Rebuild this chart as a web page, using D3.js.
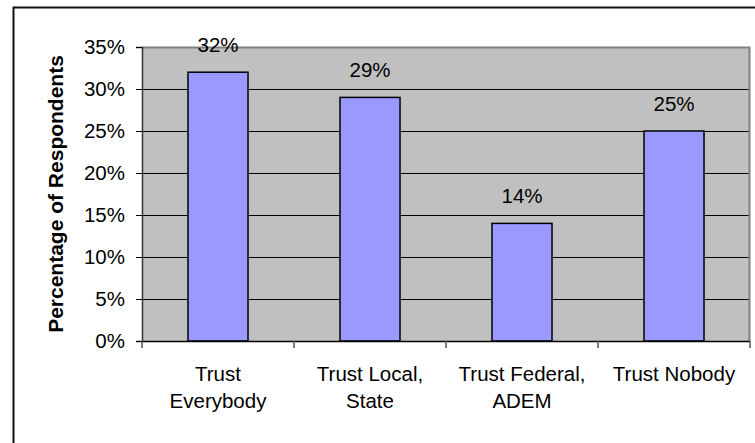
<!DOCTYPE html>
<html>
<head>
<meta charset="utf-8">
<script src="https://cdn.jsdelivr.net/npm/d3@7"></script>
<style>
  html, body { margin: 0; padding: 0; background: #fff; }
  svg { display: block; font-family: "Liberation Sans", Arial, sans-serif; }
</style>
</head>
<body>
<svg id="chart" width="755" height="443"></svg>
<script>
// Survey responses: whom respondents trust
const categories = ["Trust\nEverybody", "Trust Local,\nState", "Trust Federal,\nADEM", "Trust Nobody"];
const values = [32, 29, 14, 25];
const yTicks = [0, 5, 10, 15, 20, 25, 30, 35];
const yTitle = "Percentage of Respondents";

const svg = d3.select("#chart");
const plot = { left: 142, right: 750, top: 47, bottom: 341 };
const fontSize = 20.5;

const x = d3.scaleBand().domain(categories).range([plot.left, plot.right]).padding(0);
const y = d3.scaleLinear().domain([0, 35]).range([plot.bottom, plot.top]);
const barW = x.bandwidth() * 0.395;

// outer chart frame (extends past the right and bottom edges)
svg.append("rect")
  .attr("x", 13.5).attr("y", 7.5)
  .attr("width", 800).attr("height", 500)
  .attr("fill", "none").attr("stroke", "#111").attr("stroke-width", 2);

// plot area background
svg.append("rect")
  .attr("x", plot.left).attr("y", plot.top)
  .attr("width", plot.right - plot.left).attr("height", plot.bottom - plot.top)
  .attr("fill", "#c0c0c0");

// horizontal gridlines
svg.append("g")
  .selectAll("line")
  .data(yTicks.filter(d => d > 0 && d < 35))
  .join("line")
  .attr("x1", plot.left).attr("x2", plot.right)
  .attr("y1", d => Math.round(y(d)) + 0.5).attr("y2", d => Math.round(y(d)) + 0.5)
  .attr("stroke", "#000").attr("stroke-width", 1);

// plot area border (top and right)
svg.append("path")
  .attr("d", `M${plot.left},${plot.top + 0.5}H${plot.right - 0.5}V${plot.bottom}`)
  .attr("fill", "none").attr("stroke", "#808080").attr("stroke-width", 2);

// bars
svg.append("g")
  .selectAll("rect")
  .data(values)
  .join("rect")
  .attr("x", (d, i) => x(categories[i]) + (x.bandwidth() - barW) / 2)
  .attr("y", d => y(d))
  .attr("width", barW)
  .attr("height", d => y(0) - y(d))
  .attr("fill", "#9999ff")
  .attr("stroke", "#000").attr("stroke-width", 1.5);

// value labels
svg.append("g")
  .selectAll("text")
  .data(values)
  .join("text")
  .attr("x", (d, i) => x(categories[i]) + x.bandwidth() / 2)
  .attr("y", d => y(d) - 20)
  .attr("text-anchor", "middle")
  .attr("font-size", fontSize)
  .attr("fill", "#000")
  .text(d => d + "%");

// y axis
const yAxis = svg.append("g")
  .attr("transform", `translate(${plot.left},0)`)
  .call(d3.axisLeft(y).tickValues(yTicks).tickFormat(d => d + "%").tickSize(6).tickPadding(11));
yAxis.select(".domain").attr("stroke", "#333").attr("stroke-width", 1.5);
yAxis.selectAll(".tick line").attr("stroke", "#000");
yAxis.selectAll(".tick text").attr("font-size", fontSize).attr("font-family", "Liberation Sans, Arial, sans-serif").attr("fill", "#000");

// x axis: line, ticks on category boundaries, wrapped labels
const xg = svg.append("g");
xg.append("line")
  .attr("x1", plot.left).attr("x2", plot.right)
  .attr("y1", plot.bottom + 0.5).attr("y2", plot.bottom + 0.5)
  .attr("stroke", "#000").attr("stroke-width", 1.5);
const bounds = categories.map(c => x(c)).concat([x.range()[1]]);
xg.selectAll("line.tick")
  .data(bounds)
  .join("line")
  .attr("class", "tick")
  .attr("x1", d => d).attr("x2", d => d)
  .attr("y1", plot.bottom).attr("y2", plot.bottom + 7)
  .attr("stroke", "#555").attr("stroke-width", 1.5);

const labels = xg.selectAll("text")
  .data(categories)
  .join("text")
  .attr("text-anchor", "middle")
  .attr("font-size", fontSize)
  .attr("fill", "#000");
labels.selectAll("tspan")
  .data(d => d.split("\n").map(line => ({ line, c: d })))
  .join("tspan")
  .attr("x", d => x(d.c) + x.bandwidth() / 2)
  .attr("y", (d, i) => 380.5 + i * 27.5)
  .text(d => d.line);

// y axis title
svg.append("text")
  .attr("transform", `translate(63,${(plot.top + plot.bottom) / 2}) rotate(-90)`)
  .attr("text-anchor", "middle")
  .attr("font-size", 21)
  .attr("font-weight", "bold")
  .attr("fill", "#000")
  .text(yTitle);
</script>
</body>
</html>
